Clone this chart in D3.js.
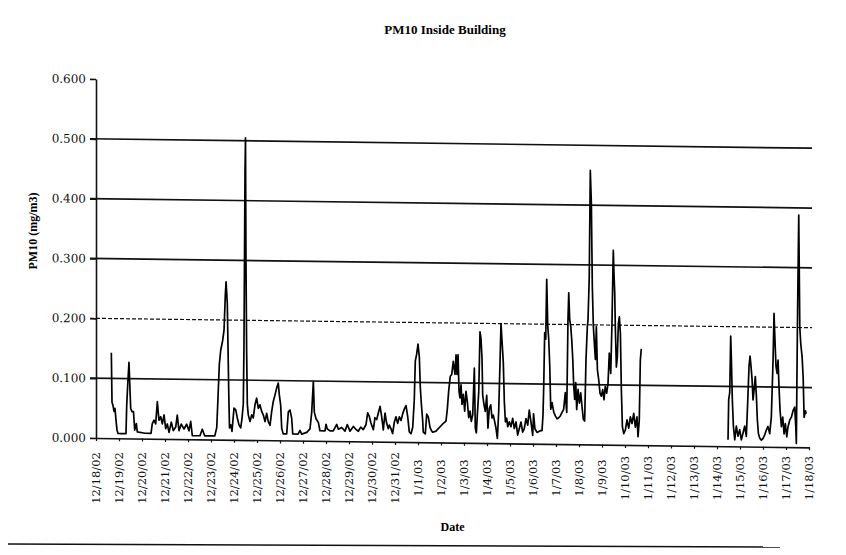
<!DOCTYPE html>
<html>
<head>
<meta charset="utf-8">
<script src="https://cdn.jsdelivr.net/npm/d3@7"></script>
<style>
  body { margin: 0; background: #fff; }
  svg { display: block; }
</style>
</head>
<body>
<div id="chart"></div>
<script>
// date labels along the bottom, one per day
var dateLabels = ["12/18/02", "12/19/02", "12/20/02", "12/21/02", "12/22/02", "12/23/02",
  "12/24/02", "12/25/02", "12/26/02", "12/27/02", "12/28/02", "12/29/02", "12/30/02",
  "12/31/02", "1/1/03", "1/2/03", "1/3/03", "1/4/03", "1/5/03", "1/6/03", "1/7/03",
  "1/8/03", "1/9/03", "1/10/03", "1/11/03", "1/12/03", "1/13/03", "1/14/03", "1/15/03",
  "1/16/03", "1/17/03", "1/18/03"];

var yTicks = [0, 0.1, 0.2, 0.3, 0.4, 0.5, 0.6];

// readings: [hours after 12/18/02 00:00, PM10 mg/m3]
// first run, 12/18 to 1/10
var firstRun = [[16.0,0.143],[16.7,0.06],[17.7,0.055],[18.8,0.045],[19.8,0.05],[20.9,0.03],[21.9,0.014],[23.0,0.008],[26.1,0.008],[31.3,0.008],[32.0,0.053],[33.1,0.09],[34.4,0.127],[35.5,0.08],[36.2,0.05],[37.6,0.045],[39.1,0.045],[40.4,0.014],[42.1,0.025],[43.1,0.011],[51.1,0.009],[57.4,0.009],[58.7,0.025],[60.5,0.031],[62.3,0.025],[64.0,0.062],[65.7,0.031],[67.5,0.037],[69.2,0.025],[71.0,0.04],[72.7,0.017],[74.4,0.025],[76.2,0.011],[78.6,0.028],[80.7,0.014],[83.2,0.02],[84.8,0.04],[86.6,0.014],[89.0,0.025],[91.8,0.017],[94.6,0.025],[97.0,0.014],[98.8,0.03],[100.5,0.006],[108.5,0.006],[110.9,0.017],[113.4,0.006],[123.9,0.006],[126.0,0.02],[127.3,0.07],[128.7,0.126],[130.1,0.149],[132.2,0.166],[133.6,0.183],[134.9,0.24],[135.7,0.264],[137.0,0.228],[137.7,0.16],[138.5,0.08],[139.3,0.02],[140.6,0.025],[141.9,0.014],[144.0,0.053],[145.8,0.05],[147.4,0.037],[149.2,0.025],[151.0,0.02],[152.3,0.035],[153.7,0.06],[154.4,0.155],[155.5,0.45],[156.0,0.505],[156.5,0.3],[157.2,0.147],[157.9,0.06],[158.9,0.042],[160.7,0.031],[162.5,0.042],[164.1,0.037],[165.9,0.059],[167.6,0.07],[169.4,0.053],[171.1,0.059],[172.9,0.048],[174.6,0.042],[176.4,0.031],[178.1,0.045],[179.8,0.031],[181.6,0.025],[183.3,0.048],[185.0,0.065],[186.8,0.076],[188.6,0.088],[190.2,0.096],[191.3,0.076],[192.7,0.059],[193.8,0.02],[195.4,0.011],[199.0,0.011],[200.7,0.048],[202.4,0.051],[204.2,0.037],[205.3,0.011],[210.8,0.011],[212.9,0.017],[214.6,0.011],[219.9,0.014],[223.3,0.02],[225.1,0.048],[226.8,0.099],[227.8,0.048],[229.6,0.037],[232.0,0.031],[233.7,0.017],[239.0,0.017],[240.0,0.028],[241.4,0.02],[244.2,0.017],[247.6,0.017],[251.2,0.028],[252.9,0.02],[256.4,0.023],[259.8,0.017],[262.2,0.028],[265.0,0.017],[268.5,0.025],[271.3,0.02],[273.7,0.017],[276.2,0.024],[278.9,0.02],[281.7,0.028],[283.5,0.048],[285.2,0.042],[286.9,0.031],[289.4,0.02],[291.1,0.04],[292.9,0.037],[294.6,0.048],[296.4,0.059],[298.1,0.042],[299.8,0.02],[301.6,0.048],[303.3,0.031],[305.0,0.022],[306.1,0.028],[307.8,0.022],[309.5,0.014],[311.3,0.033],[313.0,0.042],[314.8,0.031],[316.5,0.042],[318.3,0.036],[320.0,0.047],[321.7,0.055],[323.5,0.061],[325.3,0.042],[326.9,0.017],[328.7,0.014],[330.5,0.025],[332.1,0.07],[333.2,0.136],[334.6,0.147],[336.0,0.164],[337.4,0.142],[338.4,0.092],[339.5,0.064],[340.9,0.036],[341.5,0.017],[343.6,0.014],[345.1,0.047],[346.8,0.042],[348.5,0.025],[350.3,0.019],[351.3,0.017],[354.8,0.019],[358.2,0.025],[361.8,0.031],[365.2,0.036],[366.6,0.056],[368.0,0.086],[369.7,0.111],[371.2,0.114],[372.8,0.136],[374.6,0.114],[375.7,0.147],[376.7,0.114],[377.8,0.147],[378.8,0.086],[379.8,0.075],[380.9,0.097],[381.9,0.064],[383.3,0.081],[384.7,0.053],[386.1,0.086],[387.5,0.069],[388.9,0.042],[390.3,0.053],[391.6,0.036],[393.1,0.047],[394.8,0.125],[395.8,0.025],[396.9,0.017],[397.9,0.047],[399.4,0.086],[400.7,0.186],[401.7,0.175],[402.8,0.142],[403.5,0.08],[404.9,0.064],[406.2,0.053],[407.7,0.08],[409.0,0.025],[410.4,0.058],[411.9,0.064],[413.2,0.042],[414.6,0.047],[416.0,0.036],[417.4,0.025],[418.8,0.008],[420.2,0.053],[421.6,0.136],[422.6,0.2],[423.7,0.17],[425.0,0.136],[426.1,0.069],[427.2,0.036],[428.6,0.042],[429.6,0.028],[431.3,0.036],[433.0,0.028],[434.8,0.042],[436.5,0.025],[438.3,0.036],[440.0,0.014],[441.7,0.025],[443.5,0.036],[445.2,0.019],[446.9,0.025],[448.7,0.042],[450.5,0.031],[452.1,0.056],[453.9,0.036],[455.7,0.014],[456.6,0.05],[458.0,0.025],[460.2,0.019],[463.6,0.022],[465.4,0.022],[466.4,0.047],[467.2,0.097],[468.2,0.186],[469.3,0.175],[470.3,0.275],[471.4,0.197],[472.4,0.175],[473.5,0.13],[474.5,0.058],[475.9,0.069],[477.7,0.053],[479.3,0.047],[481.1,0.042],[482.8,0.044],[484.5,0.047],[486.3,0.053],[488.0,0.058],[489.7,0.086],[491.2,0.053],[492.5,0.208],[493.3,0.253],[494.3,0.208],[495.4,0.197],[496.4,0.175],[497.5,0.142],[498.5,0.097],[499.5,0.075],[500.6,0.103],[501.6,0.058],[503.0,0.092],[504.4,0.069],[505.8,0.086],[507.1,0.064],[508.5,0.042],[509.9,0.039],[511.3,0.142],[512.7,0.197],[513.4,0.208],[514.7,0.28],[515.8,0.458],[516.9,0.403],[517.9,0.264],[519.0,0.197],[520.0,0.17],[521.1,0.142],[522.1,0.197],[523.2,0.125],[524.6,0.108],[525.9,0.086],[527.3,0.081],[528.7,0.092],[530.1,0.075],[531.4,0.097],[532.9,0.086],[534.3,0.103],[535.6,0.153],[537.1,0.119],[538.4,0.203],[539.8,0.325],[540.5,0.286],[541.3,0.253],[541.9,0.197],[543.0,0.13],[544.0,0.147],[545.1,0.203],[546.1,0.214],[547.2,0.186],[548.2,0.092],[549.3,0.03],[550.7,0.019],[552.4,0.025],[554.1,0.042],[555.9,0.028],[557.6,0.047],[559.3,0.036],[561.1,0.053],[562.8,0.03],[564.5,0.047],[565.6,0.014],[566.9,0.042],[568.0,0.142],[569.0,0.161]];

// second run, 1/14 to 1/17 (no data in between)
var secondRun = [[659.5,0.011],[660.2,0.078],[661.3,0.09],[662.3,0.184],[663.0,0.145],[664.0,0.078],[665.1,0.034],[666.5,0.011],[668.2,0.034],[669.9,0.017],[671.7,0.028],[673.4,0.011],[675.1,0.022],[676.9,0.034],[678.6,0.017],[680.4,0.089],[681.4,0.134],[682.5,0.151],[683.5,0.134],[684.6,0.112],[685.6,0.078],[686.7,0.095],[688.0,0.117],[689.1,0.084],[690.1,0.045],[691.2,0.022],[692.6,0.014],[694.3,0.011],[696.1,0.014],[697.8,0.02],[699.5,0.028],[701.2,0.034],[703.0,0.022],[704.7,0.05],[706.5,0.145],[707.5,0.223],[708.6,0.173],[709.6,0.134],[710.7,0.123],[711.7,0.145],[712.7,0.101],[713.8,0.061],[715.2,0.034],[716.6,0.05],[718.0,0.022],[719.3,0.039],[720.8,0.017],[722.1,0.034],[723.9,0.045],[725.6,0.05],[727.4,0.061],[729.1,0.067],[730.2,0.034],[730.8,0.006],[731.9,0.2],[733.3,0.388],[734.4,0.2],[735.4,0.173],[736.8,0.151],[737.9,0.117],[738.9,0.05],[740.3,0.061],[741.0,0.056]];

var startDate = new Date(2002, 11, 18);
var endDate = new Date(2003, 0, 18);

var svgWidth = 846;
var svgHeight = 555;
var margin = { top: 79, left: 96 };
var width = 713;
var height = 359;

var svg = d3.select("#chart")
  .append("svg")
  .attr("width", svgWidth)
  .attr("height", svgHeight);

function toTime(h) {
  return new Date(startDate.getTime() + h * 3600 * 1000);
}

var x = d3.scaleTime().domain([startDate, endDate]).range([0, width]);
var y = d3.scaleLinear().domain([0, 0.6]).range([height, 0]);

// the scanned page sits a little crooked, so the plot is sheared slightly
var plot = svg.append("g")
  .attr("transform", `translate(${margin.left}, ${margin.top}) skewY(0.75)`);

// horizontal gridlines
plot.selectAll("line.grid")
  .data(yTicks.filter(d => d > 0 && d < 0.6))
  .enter()
  .append("line")
  .attr("class", "grid")
  .attr("x1", -6)
  .attr("x2", width + 3)
  .attr("y1", d => y(d))
  .attr("y2", d => y(d))
  .attr("stroke", "#111")
  .attr("stroke-width", d => d === 0.2 ? 1.2 : 1.7)
  .attr("stroke-dasharray", d => d === 0.2 ? "4,2" : null);

// y axis
var yAxis = d3.axisLeft(y)
  .tickValues(yTicks)
  .tickFormat(d3.format(".3f"))
  .tickSize(6)
  .tickSizeOuter(0);

var yg = plot.append("g").call(yAxis);
yg.select(".domain").attr("stroke", "#111").attr("stroke-width", 1.6);
yg.selectAll(".tick line").attr("stroke", "#111").attr("stroke-width", 1.6);
yg.selectAll(".tick text")
  .attr("x", -10)
  .style("font-family", "DejaVu Serif")
  .style("font-size", "12px")
  .attr("fill", "#111");

// x axis line and day ticks
var days = dateLabels.map((d, i) => d3.timeDay.offset(startDate, i));
var xAxis = d3.axisBottom(x)
  .tickValues(days)
  .tickFormat("")
  .tickSize(3)
  .tickSizeOuter(0);

var xg = plot.append("g")
  .attr("transform", `translate(0, ${height})`)
  .call(xAxis);
xg.select(".domain").attr("stroke", "#111").attr("stroke-width", 1.6);
xg.selectAll(".tick line").attr("stroke", "#111").attr("stroke-width", 1.2);

// PM10 trace
var line = d3.line()
  .x(d => x(toTime(d[0])))
  .y(d => y(d[1]));

[firstRun, secondRun].forEach(function (run) {
  plot.append("path")
    .datum(run)
    .attr("d", line)
    .attr("fill", "none")
    .attr("stroke", "#000")
    .attr("stroke-width", 1.7)
    .attr("stroke-linejoin", "round");
});

// rotated date labels
svg.append("g")
  .attr("transform", `translate(${margin.left}, 0)`)
  .selectAll("text")
  .data(dateLabels)
  .enter()
  .append("text")
  .attr("transform", (d, i) => `translate(${x(days[i])}, 478) rotate(-90)`)
  .attr("dy", "0.35em")
  .style("text-anchor", "middle")
  .style("font-family", "DejaVu Serif")
  .style("font-size", "11.5px")
  .attr("fill", "#111")
  .text(d => d);

// title
svg.append("text")
  .attr("x", 445)
  .attr("y", 34)
  .style("text-anchor", "middle")
  .style("font-family", "Liberation Serif")
  .style("font-weight", "bold")
  .style("font-size", "13px")
  .text("PM10 Inside Building");

// y axis label
svg.append("text")
  .attr("transform", "translate(37, 231) rotate(-90)")
  .style("text-anchor", "middle")
  .style("font-family", "Liberation Serif")
  .style("font-weight", "bold")
  .style("font-size", "12px")
  .text("PM10 (mg/m3)");

// x axis label
svg.append("text")
  .attr("x", margin.left + width / 2)
  .attr("y", 531)
  .style("text-anchor", "middle")
  .style("font-family", "Liberation Serif")
  .style("font-weight", "bold")
  .style("font-size", "12px")
  .text("Date");

// rule under the figure
svg.append("line")
  .attr("x1", 8)
  .attr("x2", 780)
  .attr("y1", 544)
  .attr("y2", 547)
  .attr("stroke", "#111")
  .attr("stroke-width", 1.5);
</script>
</body>
</html>
